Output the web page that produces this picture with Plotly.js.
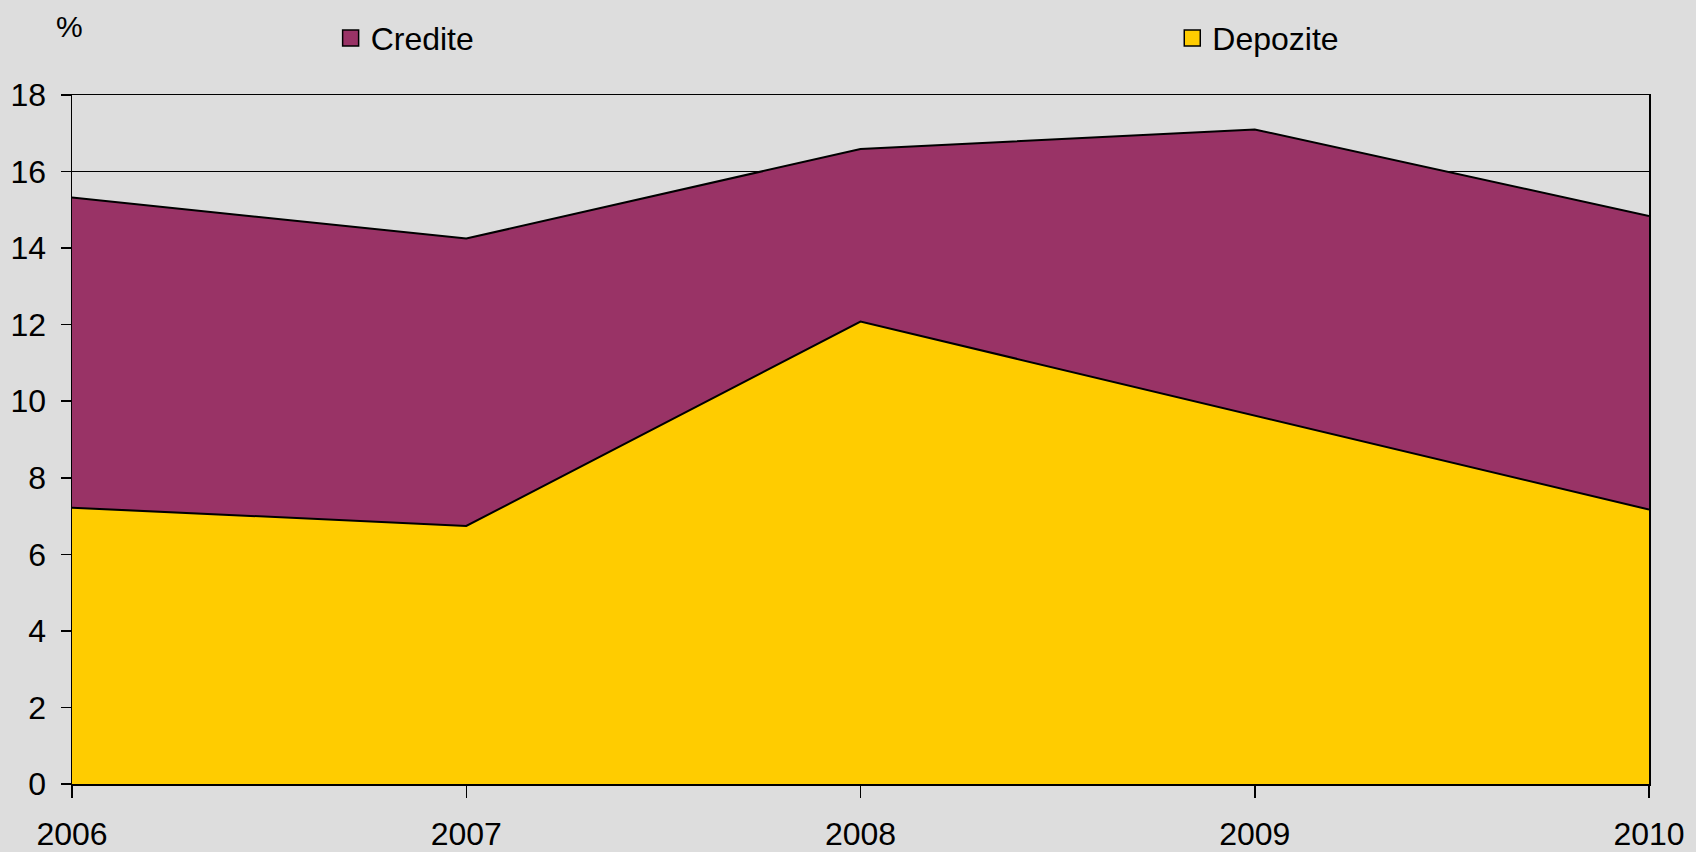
<!DOCTYPE html>
<html>
<head>
<meta charset="utf-8">
<script src="https://cdn.plot.ly/plotly-3.0.1.min.js"></script>
<style>html,body{margin:0;padding:0;background:#DDDDDD;}#chart{width:1696px;height:852px;}</style>
</head>
<body>
<div id="chart"></div>
<script>
const years = [2006, 2007, 2008, 2009, 2010];
const credite = [15.32, 14.25, 16.59, 17.10, 14.84];
const depozite = [7.22, 6.74, 12.08, 9.62, 7.17];
const yTicks = [0, 2, 4, 6, 8, 10, 12, 14, 16, 18];

const FONT = 'Liberation Sans, Arial, sans-serif';

const traces = [
  {x: years, y: credite, type: 'scatter', mode: 'lines', fill: 'tozeroy',
   fillcolor: '#993366', line: {color: '#000000', width: 2}, showlegend: false, hoverinfo: 'x+y', name: 'Credite'},
  {x: years, y: depozite, type: 'scatter', mode: 'lines', fill: 'tozeroy',
   fillcolor: '#FFCC00', line: {color: '#000000', width: 2}, showlegend: false, hoverinfo: 'x+y', name: 'Depozite'},
  {x: [null], y: [null], type: 'scatter', mode: 'markers', name: 'Credite', legend: 'legend',
   marker: {symbol: 'square', size: 20, color: '#993366', line: {color: '#000000', width: 1.5}}},
  {x: [null], y: [null], type: 'scatter', mode: 'markers', name: 'Depozite', legend: 'legend2',
   marker: {symbol: 'square', size: 20, color: '#FFCC00', line: {color: '#000000', width: 1.5}}}
];

const layout = {
  width: 1696, height: 852,
  paper_bgcolor: '#DDDDDD', plot_bgcolor: '#DDDDDD',
  font: {family: FONT, size: 32, color: '#000000'},
  margin: {l: 72, r: 47, t: 94, b: 68, pad: 0},
  xaxis: {
    range: [2006, 2010], tickvals: years, ticktext: years.map(String),
    showgrid: false, zeroline: false, showline: true, mirror: true,
    linecolor: '#000000', linewidth: 1.5,
    ticks: 'outside', ticklen: 12, tickwidth: 1.5, tickcolor: '#000000',
    ticklabelstandoff: 9, tickfont: {family: FONT, size: 32}
  },
  yaxis: {
    range: [0, 18], tickvals: yTicks, ticktext: yTicks.map(String),
    showgrid: true, gridcolor: '#000000', gridwidth: 1.2, zeroline: false,
    showline: true, mirror: true, linecolor: '#000000', linewidth: 1.5,
    ticks: 'outside', ticklen: 10, tickwidth: 1.5, tickcolor: '#000000',
    ticklabelstandoff: 8, tickfont: {family: FONT, size: 32}
  },
  legend: {x: 0.164, y: 1.081, xanchor: 'left', yanchor: 'middle', orientation: 'h',
           bgcolor: 'rgba(0,0,0,0)', font: {family: FONT, size: 32}, itemwidth: 30},
  legend2: {x: 0.6977, y: 1.081, xanchor: 'left', yanchor: 'middle', orientation: 'h',
           bgcolor: 'rgba(0,0,0,0)', font: {family: FONT, size: 32}, itemwidth: 30},
  annotations: [{text: '%', xref: 'paper', yref: 'paper', x: -0.0015, y: 1.1,
                 xanchor: 'center', yanchor: 'middle', showarrow: false,
                 font: {family: FONT, size: 30}}],
  showlegend: true
};

Plotly.newPlot('chart', traces, layout, {displayModeBar: false, staticPlot: true});
</script>
</body>
</html>
